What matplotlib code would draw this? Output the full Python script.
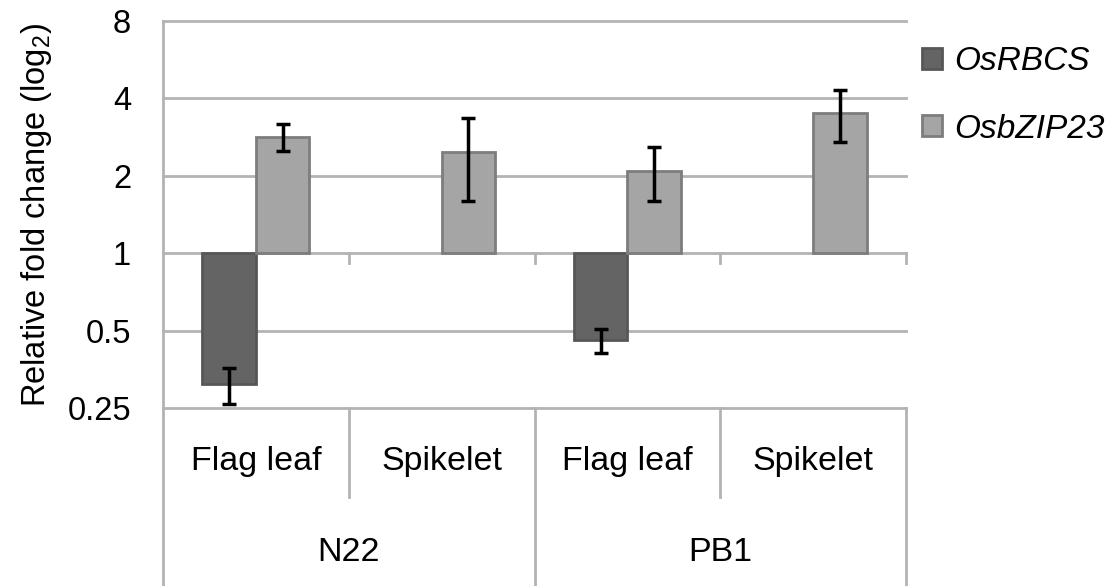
import numpy as np
import matplotlib.pyplot as plt
from matplotlib.patches import Patch
from matplotlib.ticker import FixedLocator, NullLocator
import matplotlib.transforms as mtransforms

plt.rcParams['font.family'] = ['Liberation Sans', 'DejaVu Sans']
plt.rcParams['mathtext.fontset'] = 'custom'
plt.rcParams['mathtext.rm'] = 'Liberation Sans'

# datos: fold change relativo (escala log2) y error
tejidos = ['Flag leaf', 'Spikelet', 'Flag leaf', 'Spikelet']
variedades = ['N22', 'PB1']
rbcs = [0.31, np.nan, 0.46, np.nan]
rbcs_err = [0.05, 0, 0.05, 0]
bzip = [2.84, 2.47, 2.09, 3.50]
bzip_err = [0.35, 0.87, 0.50, 0.80]
yticks = [0.25, 0.5, 1, 2, 4, 8]
ytick_labels = ['0.25', '0.5', '1', '2', '4', '8']

gris = '#b3b3b3'
c_rbcs, e_rbcs = '#646464', '#575757'
c_bzip, e_bzip = '#a5a5a5', '#7d7d7d'

fig = plt.figure(figsize=(11.15, 5.86), dpi=100)
ax = fig.add_axes([0.1462, 0.3032, 0.6664, 0.6614])

x = np.arange(len(tejidos))
w = 0.288

ax.set_yscale('log', base=2)
ax.set_ylim(0.25, 8)
ax.set_xlim(-0.5, 3.5)

# grilla horizontal
for yv in yticks:
    ax.axhline(yv, color=gris, lw=2, zorder=0, clip_on=False)

# barras desde 1 (log2 = 0)
rb = np.array(rbcs)
bz = np.array(bzip)
ax.bar(x - w / 2, rb - 1, bottom=1, width=w, color=c_rbcs, edgecolor=e_rbcs, lw=2, zorder=2)
ax.bar(x + w / 2, bz - 1, bottom=1, width=w, color=c_bzip, edgecolor=e_bzip, lw=2, zorder=2)
ax.errorbar(x - w / 2, rb, yerr=rbcs_err, fmt='none', ecolor='black', elinewidth=2.5,
            capsize=5, capthick=2.5, zorder=3)
ax.errorbar(x + w / 2, bz, yerr=bzip_err, fmt='none', ecolor='black', elinewidth=2.5,
            capsize=5, capthick=2.5, zorder=3)

for s in ['top', 'right', 'bottom']:
    ax.spines[s].set_visible(False)
ax.spines['left'].set_color(gris)
ax.spines['left'].set_linewidth(2)
ax.spines['left'].set_bounds(0.25, 8)

ax.yaxis.set_major_locator(FixedLocator(yticks))
ax.yaxis.set_minor_locator(NullLocator())
ax.set_yticklabels(ytick_labels)
ax.tick_params(axis='y', length=0, pad=23, labelsize=23.5)
ax.set_xticks([])
ax.set_ylabel('Relative fold change (log$_2$)', fontsize=23.5, labelpad=10)

# tabla de categorias debajo del eje
tr = mtransforms.blended_transform_factory(ax.transData, ax.transAxes)
# marcas chicas sobre la linea de 1
for xb in [0.5, 1.5, 2.5, 3.5]:
    ax.plot([xb, xb], [1, 2 ** -0.12], color=gris, lw=2, clip_on=False, zorder=1)
# lineas verticales
for xb in [-0.5, 1.5, 3.5]:
    ax.plot([xb, xb], [0, -0.46], color=gris, lw=2, transform=tr, clip_on=False)
for xb in [0.5, 2.5]:
    ax.plot([xb, xb], [0, -0.229], color=gris, lw=2, transform=tr, clip_on=False)
for xi, t in zip(x, tejidos):
    ax.text(xi, -0.138, t, transform=tr, ha='center', va='center', fontsize=24.5)
for i, v in enumerate(variedades):
    ax.text(2 * i + 0.5, -0.372, v, transform=tr, ha='center', va='center', fontsize=24.5)

handles = [Patch(facecolor=c_rbcs, edgecolor=e_rbcs, lw=2, label='OsRBCS'),
           Patch(facecolor=c_bzip, edgecolor=e_bzip, lw=2, label='OsbZIP23')]
ax.legend(handles=handles, loc='upper left', bbox_to_anchor=(1.022, 0.935),
          frameon=False, prop={'size': 24, 'style': 'italic'},
          handlelength=0.6, handleheight=0.6, handletextpad=0.35,
          labelspacing=1.1, borderpad=0, borderaxespad=0)

fig.savefig('out.png', dpi=100)
